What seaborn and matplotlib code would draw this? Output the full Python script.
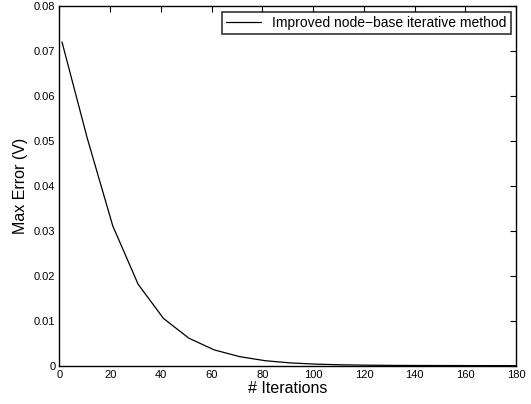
import pandas as pd
import matplotlib.pyplot as plt
import seaborn as sns

# values
iterations = [1, 11, 21, 31, 41, 51, 61, 71, 81, 91, 101, 111, 121, 131, 141, 151, 161, 171, 181]
max_error = [0.0720, 0.0505, 0.0311, 0.0181, 0.0105, 0.0061, 0.0035, 0.0020, 0.0011,
             0.0006, 0.00033, 0.00018, 0.0001, 0.00005, 0.00003, 0.00002, 0.00001, 0.000005, 0.000003]
label = 'Improved node\u2212base iterative method'

df = pd.DataFrame({'iter': iterations, 'err': max_error})

sns.set_style('white')
plt.rcParams['font.family'] = ['Liberation Sans', 'DejaVu Sans']

fig = plt.figure(figsize=(5.31, 4.04), dpi=100)
ax = fig.add_axes([0.112, 0.095, 0.86, 0.89])
sns.lineplot(data=df, x='iter', y='err', color='black', linewidth=0.9, label=label, ax=ax)

ax.set_xlim(0, 180)
ax.set_ylim(0, 0.08)
ax.set_xticks(range(0, 181, 20))
ax.set_yticks([0, 0.01, 0.02, 0.03, 0.04, 0.05, 0.06, 0.07, 0.08])
ax.set_yticklabels(['0', '0.01', '0.02', '0.03', '0.04', '0.05', '0.06', '0.07', '0.08'])
ax.tick_params(direction='in', length=4, width=0.8, top=True, right=True, labelsize=8, colors='black', pad=3)
for s in ax.spines.values():
    s.set_color('black')
    s.set_linewidth(1.0)
ax.set_xlabel('# Iterations', fontsize=11.5, labelpad=1, color='black')
ax.set_ylabel('Max Error (V)', fontsize=11.5, labelpad=4, color='black')

leg = ax.legend(loc='upper right', fontsize=10, frameon=True, fancybox=False,
                borderaxespad=0.4, handlelength=2.5, borderpad=0.3)
leg.get_frame().set_edgecolor('black')
leg.get_frame().set_linewidth(1.2)
for t in leg.get_texts():
    t.set_color('black')

plt.savefig('out.png', dpi=100)
